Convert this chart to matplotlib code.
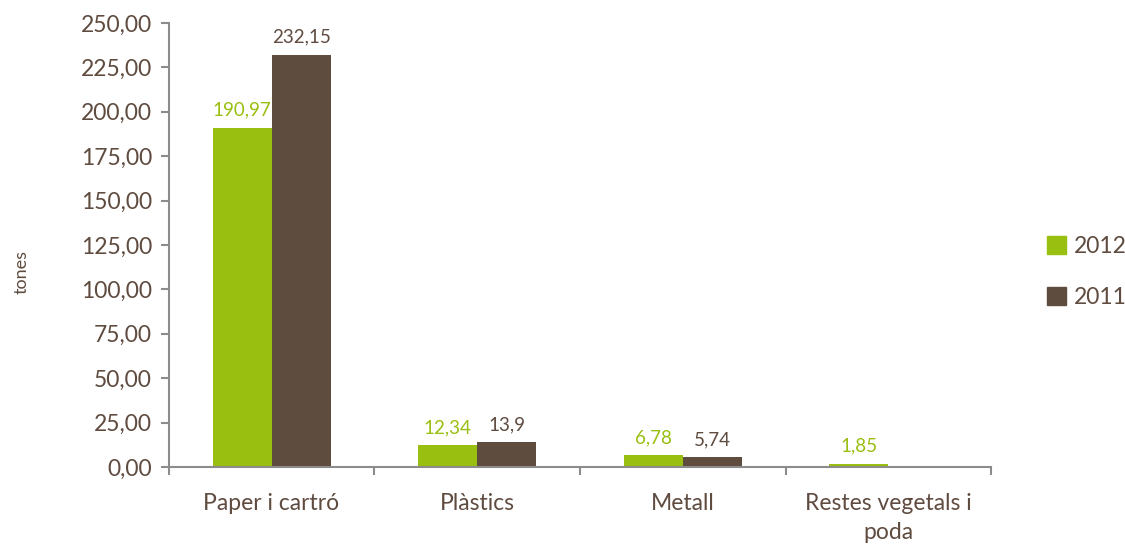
import numpy as np
import matplotlib.pyplot as plt
from matplotlib.patches import Patch

categories = ['Paper i cartró', 'Plàstics', 'Metall', 'Restes vegetals i\npoda']
vals_2012 = [190.97, 12.34, 6.78, 1.85]
vals_2011 = [232.15, 13.9, 5.74, None]
labels_2012 = ['190,97', '12,34', '6,78', '1,85']
labels_2011 = ['232,15', '13,9', '5,74', '']
yticks = np.arange(0, 251, 25)

green = '#99BF10'
brown = '#5E4C3E'
txt = '#5F4B3F'
axcol = '#8C8C8C'

plt.rcParams['font.family'] = ['Lato', 'DejaVu Sans']

fig = plt.figure(figsize=(11.25, 5.44), dpi=100)
ax = fig.add_axes([0.150, 0.1415, 0.731, 0.8165])

x = np.arange(len(categories))
w = 0.287
y12 = [v if v is not None else 0 for v in vals_2012]
y11 = [v if v is not None else 0 for v in vals_2011]
ax.bar(x - w / 2, y12, w, color=green, zorder=2)
ax.bar(x + w / 2, y11, w, color=brown, zorder=2)

for i in range(len(categories)):
    ax.text(x[i] - w / 2, y12[i] + 5, labels_2012[i], ha='center', va='bottom',
            color=green, fontsize=13.5)
    if labels_2011[i]:
        ax.text(x[i] + w / 2, y11[i] + 5, labels_2011[i], ha='center', va='bottom',
                color=txt, fontsize=13.5)

ax.set_xlim(-0.5, len(categories) - 0.5)
ax.set_ylim(0, 250)
ax.set_yticks(yticks)
ax.set_yticklabels([f'{v:.2f}'.replace('.', ',') for v in yticks])
ax.set_xticks(x)
ax.set_xticklabels(categories, linespacing=1.45)
ax.set_xticks(np.arange(-0.5, len(categories)), minor=True)
ax.tick_params(axis='x', which='major', length=0, pad=19, labelsize=16.5, colors=txt)
ax.tick_params(axis='x', which='minor', length=6, color=axcol, width=1.5)
ax.tick_params(axis='y', length=6, color=axcol, width=1.5, labelsize=16.5,
               labelcolor=txt, pad=6)

for s in ['top', 'right']:
    ax.spines[s].set_visible(False)
for s in ['left', 'bottom']:
    ax.spines[s].set_color(axcol)
    ax.spines[s].set_linewidth(1.5)

fig.text(0.019, 0.50, 'tones', rotation=90, ha='center', va='center',
         color=txt, fontsize=13)

handles = [Patch(color=green, label='2012'), Patch(color=brown, label='2011')]
fig.legend(handles=handles, loc='center left', bbox_to_anchor=(0.931, 0.5),
           frameon=False, fontsize=16.5, labelcolor=txt, handlelength=0.8,
           handleheight=0.8, handletextpad=0.35, labelspacing=1.3,
           borderpad=0, borderaxespad=0)

fig.savefig('out.png', dpi=100)
